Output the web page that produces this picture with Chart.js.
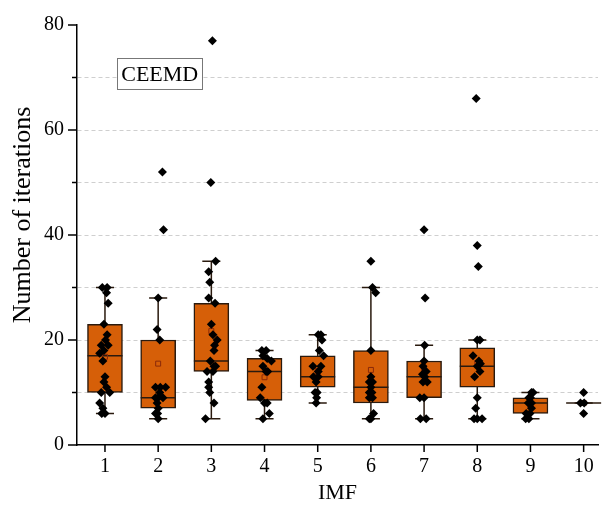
<!DOCTYPE html>
<html>
<head>
<meta charset="utf-8">
<script src="https://cdn.jsdelivr.net/npm/chart.js@4.4.1/dist/chart.umd.min.js"></script>
<style>
  html, body { margin: 0; padding: 0; background: #fff; }
</style>
</head>
<body>
<canvas id="chart" width="603" height="506"></canvas>
<script>
// IMF index on the x axis
const imfs = [1, 2, 3, 4, 5, 6, 7, 8, 9, 10];

// box statistics
const q1 = [10, 7, 14, 8.5, 11, 8, 9, 11, 6, 8];
const median = [17, 9, 16, 14, 13, 11, 13, 15, 8, 8];
const q3 = [23, 20, 27, 16.5, 17, 18, 16, 18.5, 9, 8];
const whiskLow = [6, 5, 5, 5, 8, 5, 5, 5, 5, 8];
const whiskHigh = [30, 28, 35, 18, 21, 30, 19, 20, 10, 8];
const mean = [16.8, 15.5, 21.7, 12.9, 14.1, 14.3, 14.6, 15.6, 7.5, 8];

// raw number of iterations for each IMF (dots)
const iterations = [
  [30, 30, 29, 27, 23, 21, 20, 19, 19, 18, 17.5, 16, 13, 12, 11, 10, 10, 8, 7, 6, 6],
  [52, 41, 28, 22, 20, 11, 11, 11, 10, 9, 9, 9, 8, 7, 6, 6, 5],
  [77, 50, 35, 33, 31, 28, 27, 23, 21, 20, 19, 18, 16, 15, 15, 14, 14, 12, 11, 10, 8, 5],
  [18, 18, 17, 16.5, 16, 15, 14, 14, 11, 9, 8, 8, 6, 5],
  [21, 21, 20, 18, 17, 15, 15, 14, 13, 13, 12, 10, 10, 9, 8],
  [35, 30, 29, 18, 13, 12, 12, 11, 10, 10, 9, 9, 6, 5, 5],
  [41, 28, 19, 16, 15, 14, 13.5, 13, 12, 12, 9, 9, 5, 5],
  [66, 38, 34, 20, 20, 17, 16, 15.5, 15, 14, 13, 9, 7, 5, 5, 5],
  [10, 10, 9, 9, 8, 8, 8, 7, 6, 6, 5, 5],
  [10, 8, 8, 6]
];

// horizontal scatter of the dots, as seen in the figure (x units)
const jitter = [
  [0.04, -0.05, 0.03, 0.06, -0.02, 0.04, 0.01, -0.07, 0.06, -0.02, -0.1, -0.04, 0, -0.02, 0.03, -0.07, 0.09, -0.1, -0.04, -0.06, 0],
  [0.08, 0.1, 0, -0.02, 0.03, -0.05, 0.04, 0.14, 0.03, -0.05, 0, 0.09, -0.02, 0, -0.01, -0.05, 0],
  [0.02, -0.01, 0.08, -0.05, -0.03, -0.05, 0.07, 0, 0.03, 0.11, 0.06, 0.05, -0.02, 0.08, 0.05, -0.08, 0.03, -0.05, -0.05, -0.03, 0.05, -0.11],
  [0.03, -0.05, -0.03, 0.05, 0.13, -0.03, 0.03, 0.06, -0.05, -0.08, 0, 0.05, 0.09, -0.03],
  [0.01, 0.06, 0.08, 0.03, 0.11, -0.09, 0.06, 0.01, -0.08, 0.01, -0.03, -0.05, -0.01, -0.02, -0.03],
  [0, 0.03, 0.09, 0, 0, -0.03, 0.03, 0, 0.02, -0.03, 0.03, -0.03, 0.05, 0, -0.03],
  [0, 0.02, 0.01, 0, -0.02, 0.04, -0.03, 0.01, 0.06, -0.02, -0.08, 0, -0.07, 0.04],
  [-0.02, 0, 0.02, 0.05, 0, -0.08, 0.03, 0.06, 0, 0.05, -0.05, 0, -0.03, 0, -0.06, 0.09],
  [0.02, 0.05, -0.03, 0, -0.04, 0.02, 0, 0.02, -0.01, -0.08, -0.09, -0.03],
  [0, -0.06, 0.01, 0]
];

const yTicks = [0, 10, 20, 30, 40, 50, 60, 70, 80];
const yLabelled = [0, 20, 40, 60, 80];

const boxFill = '#d65f08';
const boxEdge = '#2a1a0e';
const serif = 'Liberation Serif';

const boxData = imfs.map((c, i) => ({ x: c, y: [q1[i], q3[i]] }));
const dotData = [];
iterations.forEach((vals, i) => {
  vals.forEach((v, j) => dotData.push({ x: imfs[i] + jitter[i][j], y: v }));
});
const meanData = imfs.map((c, i) => ({ x: c, y: mean[i] }));

const boxParts = {
  id: 'boxParts',
  beforeDatasetsDraw(chart) {
    // whiskers + caps sit under the boxes
    const { ctx, scales: { x, y } } = chart;
    ctx.save();
    ctx.strokeStyle = boxEdge;
    ctx.lineWidth = 1.5;
    imfs.forEach((c, i) => {
      const px = x.getPixelForValue(c);
      const hw = x.getPixelForValue(c + 0.17) - px;
      ctx.beginPath();
      ctx.moveTo(px, y.getPixelForValue(whiskLow[i]));
      ctx.lineTo(px, y.getPixelForValue(whiskHigh[i]));
      [whiskLow[i], whiskHigh[i]].forEach(v => {
        const py = y.getPixelForValue(v);
        ctx.moveTo(px - hw, py);
        ctx.lineTo(px + hw, py);
      });
      ctx.stroke();
    });
    ctx.restore();
  },
  afterDatasetDraw(chart, args) {
    if (args.index !== 0) return;
    // median line across each box
    const { ctx, scales: { y } } = chart;
    ctx.save();
    ctx.strokeStyle = boxEdge;
    ctx.lineWidth = 1.5;
    args.meta.data.forEach((bar, i) => {
      const py = y.getPixelForValue(median[i]);
      ctx.beginPath();
      ctx.moveTo(bar.x - bar.width / 2, py);
      ctx.lineTo(bar.x + bar.width / 2, py);
      ctx.stroke();
    });
    ctx.restore();
  },
  afterDraw(chart) {
    const { ctx, scales: { x, y } } = chart;
    ctx.save();
    ctx.strokeStyle = '#000';
    ctx.lineWidth = 1.5;
    ctx.beginPath();
    // y ticks: long on labelled values, short otherwise
    yTicks.forEach(v => {
      const py = y.getPixelForValue(v);
      const len = yLabelled.includes(v) ? 9 : 5;
      ctx.moveTo(x.left, py);
      ctx.lineTo(x.left - len, py);
    });
    imfs.forEach(c => {
      const px = x.getPixelForValue(c);
      ctx.moveTo(px, y.bottom);
      ctx.lineTo(px, y.bottom + 7);
    });
    ctx.stroke();

    // y axis title, set a little above the middle as in the figure
    ctx.fillStyle = '#000';
    ctx.font = '26px "' + serif + '"';
    ctx.textAlign = 'center';
    ctx.textBaseline = 'middle';
    ctx.save();
    ctx.translate(23, 215);
    ctx.rotate(-Math.PI / 2);
    ctx.fillText('Number of iterations', 0, 0);
    ctx.restore();

    // "CEEMD" label box
    const cx = x.getPixelForValue(2.03);
    const cy = y.getPixelForValue(70.7);
    ctx.font = '22px "' + serif + '"';
    const w = ctx.measureText('CEEMD').width + 8;
    const h = 31;
    ctx.fillStyle = '#fff';
    ctx.fillRect(cx - w / 2, cy - h / 2, w, h);
    ctx.strokeStyle = '#777';
    ctx.lineWidth = 1;
    ctx.strokeRect(Math.round(cx - w / 2) + 0.5, Math.round(cy - h / 2) + 0.5, Math.round(w), h);
    ctx.fillStyle = '#000';
    ctx.fillText('CEEMD', cx, cy + 1);
    ctx.restore();
  }
};

new Chart(document.getElementById('chart'), {
  type: 'bar',
  data: {
    datasets: [
      {
        type: 'bar',
        data: boxData,
        backgroundColor: boxFill,
        borderColor: boxEdge,
        borderWidth: 1.5,
        borderSkipped: false,
        barThickness: 35,
        order: 3
      },
      {
        type: 'scatter',
        data: meanData,
        pointStyle: 'rect',
        radius: 3.5,
        backgroundColor: 'rgba(0,0,0,0)',
        borderColor: '#8a2a0a',
        borderWidth: 1,
        order: 2
      },
      {
        type: 'scatter',
        data: dotData,
        pointStyle: 'rectRot',
        radius: 4.5,
        backgroundColor: '#000',
        borderColor: '#000',
        borderWidth: 0,
        order: 1
      }
    ]
  },
  options: {
    responsive: false,
    animation: false,
    devicePixelRatio: 1,
    layout: { padding: { top: 16, right: 0, left: 0, bottom: 0 } },
    plugins: {
      legend: { display: false },
      tooltip: { enabled: false }
    },
    scales: {
      x: {
        type: 'linear',
        offset: false,
        min: 0.474,
        max: 10.27,
        afterBuildTicks: s => { s.ticks = imfs.map(v => ({ value: v })); },
        afterFit: s => {
          s.height = 61;
          s.paddingLeft = 0;
          s.paddingRight = 0;
        },
        // invisible tick marks only push the labels down (real ticks drawn by plugin)
        grid: { drawOnChartArea: false, drawTicks: true, tickLength: 10, tickColor: 'rgba(0,0,0,0)' },
        border: { color: '#000', width: 1.5 },
        ticks: {
          color: '#000',
          font: { family: serif, size: 20 },
          padding: 0,
          maxRotation: 0,
          autoSkip: false
        },
        title: {
          display: true,
          text: 'IMF',
          color: '#000',
          font: { family: serif, size: 22 },
          padding: { top: 0, bottom: 0 }
        }
      },
      y: {
        min: 0,
        max: 80,
        afterBuildTicks: s => { s.ticks = yTicks.map(v => ({ value: v })); },
        afterFit: s => { s.width = 77; },
        grid: {
          drawTicks: false,
          lineWidth: 1,
          color: c => (c.tick && c.tick.value > 0 && c.tick.value < 80) ? '#cfcfcf' : 'rgba(0,0,0,0)'
        },
        border: { color: '#000', width: 1.5, dash: [4, 3] },
        ticks: {
          color: '#000',
          font: { family: serif, size: 20 },
          padding: 13,
          callback: v => yLabelled.includes(v) ? String(v) : ''
        },
        title: { display: false }
      }
    }
  },
  plugins: [boxParts]
});
</script>
</body>
</html>
